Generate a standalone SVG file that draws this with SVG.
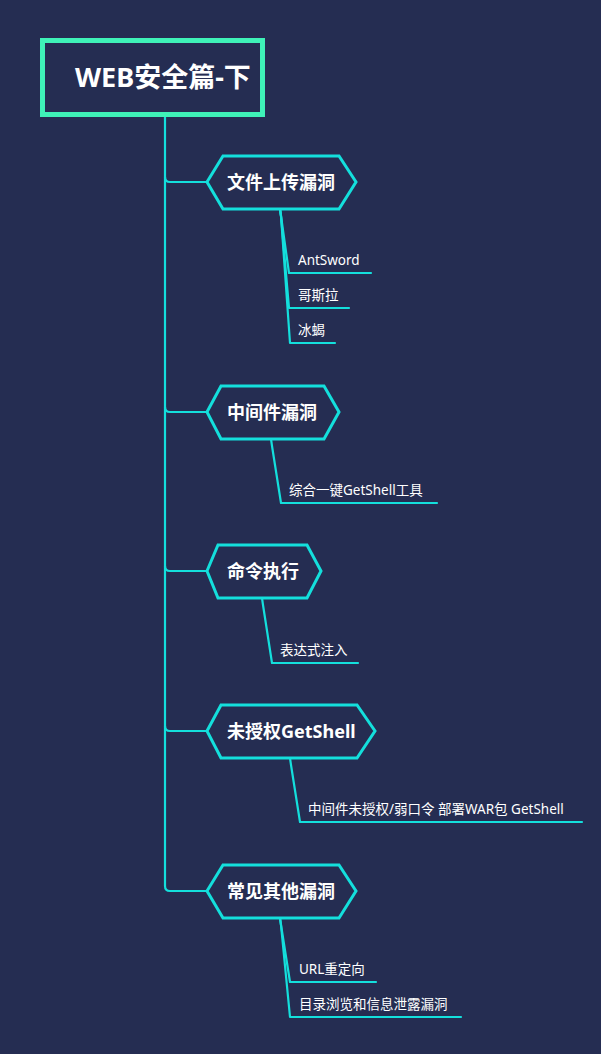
<svg xmlns="http://www.w3.org/2000/svg" width="601" height="1054" viewBox="0 0 601 1054">
<style>
.bg{fill:#252d52}
.ln{fill:none;stroke:#14dfdc;stroke-width:2.2;stroke-linejoin:round;stroke-linecap:round}
.hex{fill:#252d52;stroke:#14dfdc;stroke-width:3}
.root{fill:#252d52;stroke:#3ff2b8;stroke-width:5}
.t0{font-family:"Noto Sans","Noto Sans CJK SC",sans-serif;font-weight:bold;font-size:27px;fill:#ffffff}
.t1{font-family:"Noto Sans","Noto Sans CJK SC",sans-serif;font-weight:bold;font-size:18px;fill:#ffffff}
.t2{font-family:"Noto Sans","Noto Sans CJK SC",sans-serif;font-size:13.5px;fill:#ffffff}
</style>
<rect class="bg" x="0" y="0" width="601" height="1054"/>
<g id="connectors">
<path class="ln" d="M165,117 V886 Q165,891 170,891 H207"/>
<path class="ln" d="M165,177 Q165,182 170,182 H207"/>
<path class="ln" d="M165,407 Q165,412 170,412 H207"/>
<path class="ln" d="M165,566 Q165,571 170,571 H207"/>
<path class="ln" d="M165,726 Q165,731 170,731 H207"/>
<path class="ln" d="M280,209 L281,216 L289,273 H371"/>
<path class="ln" d="M280,209 L281,216 L289,308 H349"/>
<path class="ln" d="M280,209 L281,216 L290,343 H335"/>
<path class="ln" d="M271,439 L272,446 L281,503 H437"/>
<path class="ln" d="M262,598 L263,605 L272,663 H358"/>
<path class="ln" d="M290,758 L291,765 L300,822 H582"/>
<path class="ln" d="M280,918 L281,925 L290,982 H376"/>
<path class="ln" d="M280,918 L281,925 L290,1017 H461"/>
</g>
<g id="root">
<rect class="root" x="42.5" y="40.5" width="220" height="74"/>
<text class="t0" x="75" y="87">WEB安全篇-下</text>
</g>
<g id="n1">
<polygon class="hex" points="207,182 223,156 339,156 356,182 339,209 223,209"/>
<text class="t1" x="227" y="188.5">文件上传漏洞</text>
</g>
<g id="n1a"><text class="t2" x="298" y="265">AntSword</text></g>
<g id="n1b"><text class="t2" x="298" y="300">哥斯拉</text></g>
<g id="n1c"><text class="t2" x="298" y="335">冰蝎</text></g>
<g id="n2">
<polygon class="hex" points="207,412 221,386 324,386 339,412 324,439 221,439"/>
<text class="t1" x="227" y="418.5">中间件漏洞</text>
</g>
<g id="n2a"><text class="t2" x="289" y="495">综合一键GetShell工具</text></g>
<g id="n3">
<polygon class="hex" points="207,571 218,545 307,545 321,571 307,598 218,598"/>
<text class="t1" x="227" y="577.5">命令执行</text>
</g>
<g id="n3a"><text class="t2" x="280" y="655">表达式注入</text></g>
<g id="n4">
<polygon class="hex" points="207,731 221,705 357,705 375,731 357,758 221,758"/>
<text class="t1" x="227" y="737.5">未授权GetShell</text>
</g>
<g id="n4a"><text class="t2" x="308" y="814">中间件未授权/弱口令 部署WAR包 GetShell</text></g>
<g id="n5">
<polygon class="hex" points="207,891 223,865 339,865 356,891 339,918 223,918"/>
<text class="t1" x="227" y="897.5">常见其他漏洞</text>
</g>
<g id="n5a"><text class="t2" x="299" y="974">URL重定向</text></g>
<g id="n5b"><text class="t2" x="299" y="1009">目录浏览和信息泄露漏洞</text></g>
</svg>
